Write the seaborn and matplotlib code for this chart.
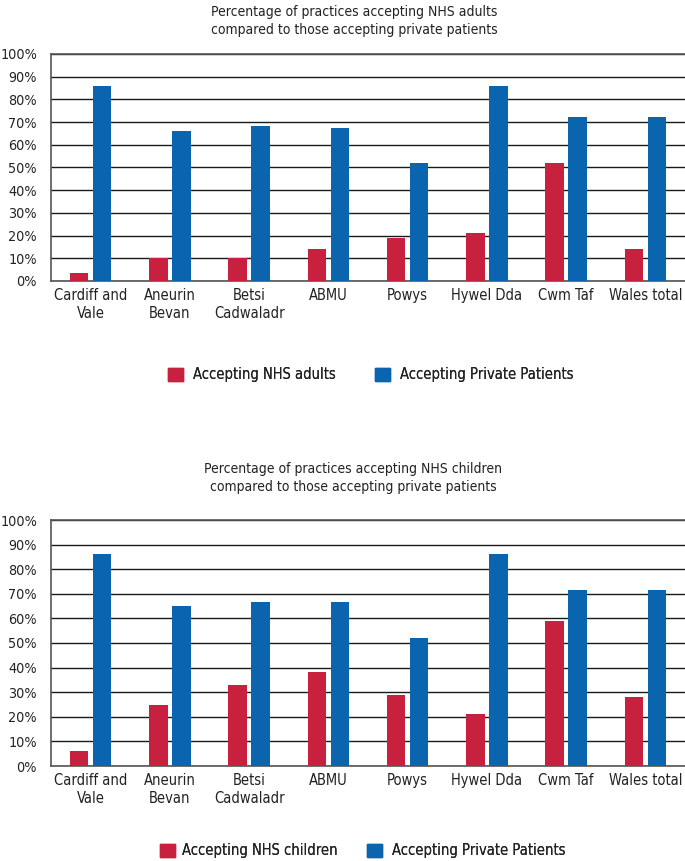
import matplotlib
matplotlib.use("Agg")
import matplotlib.pyplot as plt
import seaborn as sns
import pandas as pd
from matplotlib.patches import Patch
from matplotlib.ticker import FuncFormatter

categories = ["Cardiff and\nVale", "Aneurin\nBevan", "Betsi\nCadwaladr", "ABMU",
              "Powys", "Hywel Dda", "Cwm Taf", "Wales total"]
nhs_adults = [3.5, 10, 10, 14.3, 18.8, 21.1, 52, 14.3]
private_top = [86, 66.2, 68.4, 67.5, 52, 86, 72.3, 72.3]
nhs_children = [6.2, 25, 33, 38.4, 29, 21.3, 59, 28]
private_bottom = [86, 65.1, 66.5, 66.5, 51.9, 86, 71.6, 71.6]
yticks = [0, 10, 20, 30, 40, 50, 60, 70, 80, 90, 100]

title_top = "Percentage of practices accepting NHS adults\ncompared to those accepting private patients"
title_bottom = "Percentage of practices accepting NHS children\ncompared to those accepting private patients"
lab_adults = "Accepting NHS adults"
lab_children = "Accepting NHS children"
lab_private = "Accepting Private Patients"

RED = "#C8203F"
BLUE = "#0A65AE"

sns.set_theme(style="white")
plt.rcParams["font.family"] = ["DejaVu Sans"]
plt.rcParams["font.stretch"] = "condensed"
plt.rcParams["text.color"] = "#222222"

W, H = 685, 861
fig = plt.figure(figsize=(W / 100, H / 100), dpi=100)
FS = 10


def add_axes_px(left, top, right, bottom):
    return fig.add_axes([left / W, 1 - bottom / H, (right - left) / W, (bottom - top) / H])


def draw(ax, nhs_vals, priv_vals, nhs_label):
    df = pd.DataFrame({
        "cat": categories * 2,
        "val": list(nhs_vals) + list(priv_vals),
        "series": [nhs_label] * len(categories) + [lab_private] * len(categories),
    })
    sns.barplot(data=df, x="cat", y="val", hue="series", palette=[RED, BLUE],
                width=0.58, gap=0.2, ax=ax, legend=False, saturation=1,
                edgecolor="none", zorder=3)
    ax.set_ylim(0, 100)
    ax.set_xlim(-0.5, len(categories) - 0.5)
    ax.set_yticks(yticks)
    ax.yaxis.set_major_formatter(FuncFormatter(lambda v, p: f"{int(v)}%"))
    ax.yaxis.grid(True, color="#1a1a1a", linewidth=1.0, zorder=0)
    ax.set_axisbelow(True)
    ax.set_xlabel("")
    ax.set_ylabel("")
    for s in ["top", "left", "bottom"]:
        ax.spines[s].set_visible(True)
        ax.spines[s].set_color("#555555")
        ax.spines[s].set_linewidth(1.2)
    ax.spines["right"].set_visible(False)
    ax.tick_params(axis="y", labelsize=FS + 0.3, pad=10, length=0, colors="#222222")
    ax.tick_params(axis="x", labelsize=FS + 0.5, pad=5, length=0, colors="#222222")
    for t in ax.get_xticklabels():
        t.set_linespacing(1.25)


def legend_item(color, label, x_px, y_px, pad):
    lg = fig.legend(handles=[Patch(color=color, label=label)], loc="center left",
                    bbox_to_anchor=(x_px / W, 1 - y_px / H), frameon=False,
                    fontsize=FS + 0.5, handlelength=1.0, handleheight=1.0,
                    handletextpad=pad, borderpad=0, borderaxespad=0)
    fig.add_artist(lg)


ax1 = add_axes_px(51, 54, 685, 281)
draw(ax1, nhs_adults, private_top, lab_adults)
fig.text(354 / W, 1 - 21 / H, title_top, ha="center", va="center", fontsize=FS,
         linespacing=1.45)
legend_item(RED, lab_adults, 168, 375, 0.7)
legend_item(BLUE, lab_private, 375, 375, 0.7)

ax2 = add_axes_px(51, 520, 685, 766)
draw(ax2, nhs_children, private_bottom, lab_children)
fig.text(353 / W, 1 - 478 / H, title_bottom, ha="center", va="center", fontsize=FS,
         linespacing=1.45)
legend_item(RED, lab_children, 160, 851, 0.5)
legend_item(BLUE, lab_private, 367, 851, 0.7)

fig.savefig("out.png", dpi=100)
